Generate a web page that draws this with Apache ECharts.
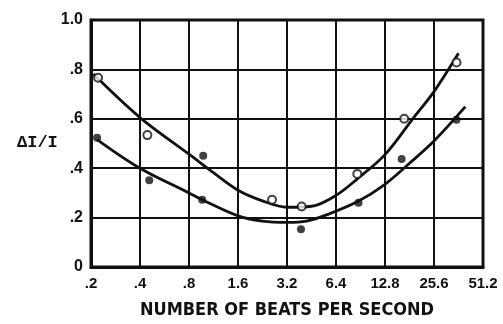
<!DOCTYPE html>
<html>
<head>
<meta charset="utf-8">
<script src="https://cdn.jsdelivr.net/npm/echarts@6/dist/echarts.min.js"></script>
<style>
html,body{margin:0;padding:0;background:#fff;}
#c{width:503px;height:324px;}
</style>
</head>
<body>
<div id="c"></div>
<script>
// Tick labels
const xTickValues = [0.2, 0.4, 0.8, 1.6, 3.2, 6.4, 12.8, 25.6, 51.2];
const xTickLabels = ['.2', '.4', '.8', '1.6', '3.2', '6.4', '12.8', '25.6', '51.2'];
const yTickLabels = ['0', '.2', '.4', '.6', '.8', '1.0'];

// Open-circle observations (beats/s, ΔI/I)
const openX = [0.221, 0.444, 2.59, 3.94, 8.65, 16.8, 35.2];
const openY = [0.766, 0.534, 0.272, 0.245, 0.377, 0.600, 0.828];

// Filled-circle observations
const filledX = [0.218, 0.456, 0.978, 0.964, 3.9, 8.8, 16.2, 35.2];
const filledY = [0.523, 0.351, 0.450, 0.272, 0.153, 0.260, 0.437, 0.596];

// Fitted curve (upper, through open circles)
const upperCurveX = [0.207, 0.4, 0.8, 1.13, 1.6, 2.26, 3.2, 4.53, 6.4, 8.69, 12.8, 19.1, 25.6, 36.2];
const upperCurveY = [0.781, 0.605, 0.457, 0.382, 0.311, 0.268, 0.242, 0.246, 0.290, 0.358, 0.455, 0.603, 0.710, 0.865];

// Fitted curve (lower, through filled circles)
const lowerCurveX = [0.218, 0.4, 0.8, 0.965, 1.6, 2.26, 3.2, 4.22, 5.65, 8.69, 12.8, 18.1, 25.6, 39.9];
const lowerCurveY = [0.516, 0.400, 0.300, 0.272, 0.207, 0.186, 0.181, 0.186, 0.212, 0.265, 0.335, 0.420, 0.510, 0.649];

const X0 = xTickValues[0];
const toU = x => Math.log2(x / X0);
const pts = (xs, ys) => xs.map((x, i) => [toU(x), ys[i]]);

const INK = '#111';
const NARROW = "'Liberation Sans Narrow', 'DejaVu Sans Condensed', 'Arial Narrow', sans-serif";
const LAB = "'Liberation Sans', Arial, sans-serif";

const chart = echarts.init(document.getElementById('c'), null, {renderer: 'canvas'});
chart.setOption({
  backgroundColor: '#fff',
  animation: false,
  grid: {left: 91, right: 20, top: 20, bottom: 52, show: true, borderColor: INK, borderWidth: 3},
  xAxis: {
    type: 'value', min: 0, max: xTickValues.length - 1, interval: 1,
    name: 'NUMBER OF BEATS PER SECOND', nameLocation: 'middle', nameGap: 34,
    nameTextStyle: {fontFamily: NARROW, fontWeight: 'bold', fontSize: 18, color: INK},
    axisLine: {show: true, lineStyle: {color: INK, width: 3}},
    axisTick: {show: false},
    axisLabel: {
      margin: 9, fontFamily: LAB, fontWeight: 'bold', fontSize: 15, color: INK,
      formatter: v => xTickLabels[Math.round(v)]
    },
    splitLine: {show: true, lineStyle: {color: INK, width: 2}}
  },
  yAxis: {
    type: 'value', min: 0, max: 1, interval: 0.2,
    axisLine: {show: true, lineStyle: {color: INK, width: 3}},
    axisTick: {show: false},
    axisLabel: {
      margin: 8, fontFamily: LAB, fontWeight: 'bold', fontSize: 16, color: INK,
      formatter: v => yTickLabels[Math.round(v / 0.2)]
    },
    splitLine: {show: true, lineStyle: {color: INK, width: 2}}
  },
  graphic: [{
    type: 'text', left: 17, top: 134,
    style: {text: 'ΔI/I', font: "bold 17px 'Liberation Mono', 'DejaVu Sans Mono', monospace", fill: INK}
  }],
  series: [
    {type: 'line', data: pts(upperCurveX, upperCurveY), smooth: 0.35, showSymbol: false,
     lineStyle: {color: INK, width: 2.8}, z: 3},
    {type: 'line', data: pts(lowerCurveX, lowerCurveY), smooth: 0.35, showSymbol: false,
     lineStyle: {color: INK, width: 2.8}, z: 3},
    {type: 'scatter', data: pts(openX, openY), symbol: 'circle', symbolSize: 8,
     itemStyle: {color: '#fff', borderColor: INK, borderWidth: 2}, z: 5},
    {type: 'scatter', data: pts(filledX, filledY), symbol: 'circle', symbolSize: 8,
     itemStyle: {color: INK}, z: 5}
  ]
});
</script>
</body>
</html>
